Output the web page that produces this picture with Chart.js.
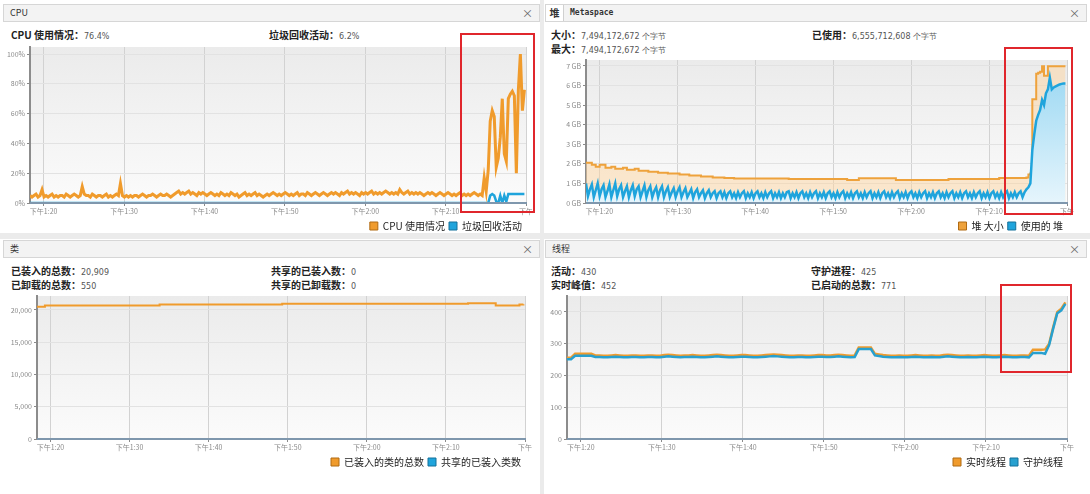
<!DOCTYPE html>
<html>
<head>
<meta charset="utf-8">
<script src="https://cdn.jsdelivr.net/npm/chart.js@4.4.0/dist/chart.umd.min.js"></script>
<style>
body { margin: 0; width: 1090px; height: 494px; background: #fff; position: relative; overflow: hidden; font-family: "Noto Sans CJK SC", sans-serif; }
.sep { position: absolute; background: #ebebeb; }
.hdr { position: absolute; height: 16px; background: #f3f3f3; border: 1px solid #d6d6d6; font-size: 9px; color: #333; line-height: 16px; }
.hdr .t { position: absolute; left: 6px; }
.hdr .x { position: absolute; right: 6px; color: #666; font-size: 11px; }
.st { position: absolute; font-size: 10px; font-weight: bold; color: #222; white-space: nowrap; line-height: 12px; }
.st i { font-style: normal; font-weight: normal; font-family: "DejaVu Sans", sans-serif; font-size: 8px; color: #555; }
.box { position: absolute; border: 2px solid #e0262c; box-sizing: border-box; pointer-events: none; }
canvas { position: absolute; }
</style>
</head>
<body>

<div class="sep" style="left:0;top:233px;width:1090px;height:6px"></div>
<div class="sep" style="left:540px;top:0;width:4px;height:494px"></div>

<div class="hdr" style="left:3px;top:4px;width:535px"><span class="t">CPU</span><span class="x">×</span></div>
<div class="hdr" style="left:545px;top:4px;width:540px">
  <span style="position:absolute;left:0;top:0;width:17px;height:16px;background:#fff;border-right:1px solid #d0d0d0;text-align:center;font-weight:bold;font-size:10px">堆</span>
  <span style="position:absolute;left:24px;font-family:'DejaVu Sans Mono',monospace;font-weight:bold;font-size:8px">Metaspace</span>
  <span class="x">×</span>
</div>
<div class="hdr" style="left:3px;top:240px;width:535px"><span class="t">类</span><span class="x">×</span></div>
<div class="hdr" style="left:545px;top:240px;width:540px"><span class="t">线程</span><span class="x">×</span></div>

<div class="st" style="left:11px;top:29px">CPU 使用情况：<i>76.4%</i></div>
<div class="st" style="left:269px;top:29px">垃圾回收活动：<i>6.2%</i></div>

<div class="st" style="left:551px;top:29px">大小：<i>7,494,172,672 个字节</i></div>
<div class="st" style="left:551px;top:43px">最大：<i>7,494,172,672 个字节</i></div>
<div class="st" style="left:812px;top:29px">已使用：<i>6,555,712,608 个字节</i></div>

<div class="st" style="left:11px;top:265px">已装入的总数：<i>20,909</i></div>
<div class="st" style="left:11px;top:279px">已卸载的总数：<i>550</i></div>
<div class="st" style="left:271px;top:265px">共享的已装入数：<i>0</i></div>
<div class="st" style="left:271px;top:279px">共享的已卸载数：<i>0</i></div>

<div class="st" style="left:551px;top:265px">活动：<i>430</i></div>
<div class="st" style="left:551px;top:279px">实时峰值：<i>452</i></div>
<div class="st" style="left:811px;top:265px">守护进程：<i>425</i></div>
<div class="st" style="left:811px;top:279px">已启动的总数：<i>771</i></div>

<canvas id="cpu" width="540" height="201" style="left:0;top:40px"></canvas>
<canvas id="heap" width="545" height="188" style="left:545px;top:53px"></canvas>
<canvas id="classes" width="540" height="188" style="left:0;top:289px"></canvas>
<canvas id="threads" width="545" height="188" style="left:545px;top:289px"></canvas>

<div class="box" style="left:460px;top:33px;width:75px;height:180px"></div>
<div class="box" style="left:1004px;top:47px;width:69px;height:168px"></div>
<div class="box" style="left:1000px;top:284px;width:72px;height:89px"></div>

<script>
// time is minutes after 13:00 (下午1:00)
var timeStart = 18.3;
var timeEnd = 80;
var fineStep = 0.25;
var coarseStep = 0.5;

var timeTicks = [20, 30, 40, 50, 60, 70, 80];
var timeTickLabels = ['下午1:20', '下午1:30', '下午1:40', '下午1:50', '下午2:00', '下午2:10', '下午'];

var cpuTicks = [0, 20, 40, 60, 80, 100];
var cpuTickLabels = ['0%', '20%', '40%', '60%', '80%', '100%'];
var heapTicks = [0, 1, 2, 3, 4, 5, 6, 7];
var heapTickLabels = ['0 GB', '1 GB', '2 GB', '3 GB', '4 GB', '5 GB', '6 GB', '7 GB'];
var classTicks = [0, 5000, 10000, 15000, 20000];
var classTickLabels = ['0', '5,000', '10,000', '15,000', '20,000'];
var threadTicks = [0, 100, 200, 300, 400];
var threadTickLabels = ['0', '100', '200', '300', '400'];

// CPU 使用情况 (%), one sample per fineStep
var cpuUsage = [
    5,4,5,6,4,5,9,4,5,4,5,6,4,5,4,5,5,4,6,5,
    4,5,6,5,4,5,11,6,5,5,4,6,5,4,5,5,4,5,6,4,
    5,4,5,6,5,13,5,4,5,4,5,4,5,5,4,5,6,5,4,5,
    5,6,5,4,5,6,5,5,6,5,4,5,6,7,8,6,7,6,7,8,
    6,7,6,5,7,6,7,6,5,6,7,6,5,6,5,7,6,5,6,5,
    7,6,5,6,4,5,6,7,5,6,5,6,7,5,6,5,4,5,6,5,
    6,7,6,5,6,5,6,7,6,5,6,5,6,7,5,6,6,5,7,6,
    5,6,7,6,5,6,7,6,5,6,7,6,7,6,5,7,6,7,8,6,
    7,6,7,6,5,7,6,7,6,7,8,6,7,6,7,6,7,8,7,6,
    7,6,7,6,9,7,6,7,8,6,7,6,7,6,7,6,5,6,7,6,
    7,6,5,6,7,6,5,6,7,6,5,6,5,6,7,5,6,5,6,5,
    6,7,6,5,6,5,17,8,22,55,62,58,24,30,44,70,33,28,70,73,
    75,72,20,76,100,62,76
];

// 垃圾回收活动 (%)
var gcActivity = [
    0,0,0,0,0,0,0,0,0,0,0,0,0,0,0,0,0,0,0,0,
    0,0,0,0,0,0,0,0,0,0,0,0,0,0,0,0,0,0,0,0,
    0,0,0,0,0,0,0,0,0,0,0,0,0,0,0,0,0,0,0,0,
    0,0,0,0,0,0,0,0,0,0,0,0,0,0,0,0,0,0,0,0,
    0,0,0,0,0,0,0,0,0,0,0,0,0,0,0,0,0,0,0,0,
    0,0,0,0,0,0,0,0,0,0,0,0,0,0,0,0,0,0,0,0,
    0,0,0,0,0,0,0,0,0,0,0,0,0,0,0,0,0,0,0,0,
    0,0,0,0,0,0,0,0,0,0,0,0,0,0,0,0,0,0,0,0,
    0,0,0,0,0,0,0,0,0,0,0,0,0,0,0,0,0,0,0,0,
    0,0,0,0,0,0,0,0,0,0,0,0,0,0,0,0,0,0,0,0,
    0,0,0,0,0,0,0,0,0,0,0,0,0,0,0,0,0,0,0,0,
    0,0,0,0,0,0,0,0,0,
    5,6,5,1,0,5,0,5,1,6,6,6,6,6,6,6,6,6
];

// 堆 大小 (GB)
var heapSize = [
    2.05,2.05,2.05,1.95,1.95,1.85,1.85,1.95,1.95,1.95, 1.8,1.8,1.8,1.85,1.85,1.75,1.75,1.75,1.75,1.8,
    1.8,1.7,1.7,1.7,1.7,1.75,1.75,1.65,1.65,1.65, 1.65,1.65,1.6,1.6,1.6,1.6,1.6,1.55,1.55,1.55,
    1.55,1.55,1.5,1.5,1.5,1.5,1.5,1.5,1.45,1.45, 1.45,1.45,1.45,1.4,1.4,1.4,1.4,1.4,1.4,1.35,
    1.35,1.35,1.35,1.35,1.35,1.3,1.3,1.3,1.3,1.3, 1.3,1.28,1.28,1.28,1.28,1.28,1.25,1.25,1.25,1.25,
    1.25,1.25,1.25,1.25,1.25,1.25,1.25,1.25,1.25,1.25, 1.25,1.25,1.25,1.25,1.25,1.25,1.25,1.25,1.25,1.25,
    1.25,1.25,1.25,1.25,1.22,1.22,1.22,1.22,1.22,1.22, 1.22,1.22,1.22,1.22,1.22,1.22,1.22,1.22,1.22,1.22,
    1.22,1.22,1.22,1.22,1.22,1.22,1.22,1.22,1.22,1.22, 1.22,1.22,1.22,1.22,1.18,1.18,1.18,1.18,1.18,1.18,
    1.26,1.26,1.26,1.26,1.26,1.26,1.26,1.26,1.26,1.26, 1.26,1.26,1.26,1.26,1.26,1.26,1.26,1.26,1.26,1.18,
    1.18,1.18,1.18,1.18,1.18,1.18,1.18,1.18,1.18,1.18, 1.18,1.18,1.18,1.18,1.18,1.18,1.18,1.18,1.18,1.18,
    1.18,1.18,1.18,1.18,1.18,1.18,1.22,1.22,1.22,1.22, 1.22,1.22,1.22,1.22,1.22,1.22,1.22,1.22,1.22,1.22,
    1.22,1.22,1.22,1.22,1.22,1.22,1.22,1.22,1.22,1.22, 1.22,1.22,1.28,1.28,1.28,1.28,1.28,1.28,1.28,1.28,
    1.28,1.28,1.28,1.28,1.28,1.28,1.3,1.45,1.5,5.3, 5.3,6.6,6.65,6.7,6.98,6.5,6.5,6.98,6.98,6.98,
    6.98,6.98,6.98,6.98,6.98,6.98,6.98
];

// 使用的 堆 (GB)
var heapUsed = [
    1.0,0.35,0.7,0.95,0.3,0.65,1.0,0.35,0.7,0.9, 0.3,0.6,0.95,0.3,0.65,1.0,0.35,0.7,0.9,0.3,
    0.6,0.85,0.3,0.65,0.9,0.35,0.7,0.85,0.3,0.6, 0.9,0.3,0.65,0.85,0.3,0.6,0.8,0.3,0.65,0.85,
    0.3,0.6,0.8,0.3,0.55,0.75,0.3,0.6,0.8,0.3, 0.55,0.75,0.3,0.5,0.7,0.25,0.55,0.7,0.3,0.5,
    0.65,0.25,0.5,0.65,0.3,0.5,0.6,0.25,0.5,0.6, 0.3,0.55,0.25,0.5,0.6,0.3,0.5,0.25,0.55,0.3,
    0.5,0.6,0.25,0.5,0.3,0.55,0.25,0.5,0.6,0.3, 0.5,0.25,0.55,0.3,0.5,0.6,0.25,0.5,0.3,0.55,
    0.25,0.5,0.3,0.55,0.6,0.25,0.5,0.3,0.55,0.25, 0.5,0.6,0.3,0.5,0.25,0.55,0.3,0.5,0.6,0.25,
    0.5,0.3,0.55,0.25,0.5,0.6,0.3,0.5,0.25,0.55, 0.3,0.5,0.6,0.25,0.5,0.3,0.55,0.25,0.5,0.6,
    0.3,0.5,0.25,0.55,0.3,0.5,0.6,0.25,0.5,0.3, 0.55,0.25,0.5,0.6,0.3,0.5,0.25,0.55,0.3,0.5,
    0.6,0.25,0.5,0.3,0.55,0.25,0.5,0.6,0.3,0.5, 0.25,0.55,0.3,0.5,0.6,0.25,0.5,0.3,0.55,0.25,
    0.5,0.6,0.3,0.5,0.25,0.55,0.3,0.5,0.6,0.25, 0.5,0.3,0.55,0.25,0.5,0.6,0.3,0.5,0.25,0.55,
    0.3,0.5,0.6,0.25,0.5,0.3,0.55,0.25,0.5,0.6, 0.3,0.5,0.25,0.55,0.3,0.5,0.6,0.25,0.5,0.3,
    0.55,0.3,0.5,0.6,0.3,0.55,0.7,0.8,1.0,2.7, 3.5,4.2,4.5,4.75,5.26,5.0,5.6,5.8,6.4,5.8,
    5.9,5.95,6.0,6.05,6.08,6.1,6.1
];

// 已装入的类的总数, one sample per coarseStep
var loadedClasses = [
    20500,20500,
    20700,20700,20700,20700,20700,20700,20700,20700,20700,20700,20700,20700,20700,20700,20700,
    20700,20700,20700,20700,20700,20700,20700,20700,20700,20700,20700,20700,20700,20700,
    20850,20850,20850,20850,20850,20850,20850,20850,20850,20850,20850,20850,20850,20850,20850,20850,
    20850,20850,20850,20850,20850,20850,20850,20850,20850,20850,20850,20850,20850,20850,20850,
    20950,20950,20950,20950,20950,20950,20950,20950,20950,20950,20950,20950,20950,20950,20950,20950,
    20950,20950,20950,20950,20950,20950,20950,20950,20950,20950,20950,20950,20950,20950,20950,20950,
    20950,20950,20950,20950,20950,20950,20950,20950,20950,20950,20950,20950,20950,20950,20950,
    21050,21050,21050,21050,21050,21050,21050,
    20700,20700,20700,20700,20700,20700,
    20850,20909
];

// 共享的已装入类数
var sharedClasses = [
    0,0,0,0,0,0,0,0,0,0,0,0,0,0,0,0,0,0,0,0,
    0,0,0,0,0,0,0,0,0,0,0,0,0,0,0,0,0,0,0,0,
    0,0,0,0,0,0,0,0,0,0,0,0,0,0,0,0,0,0,0,0,
    0,0,0,0,0,0,0,0,0,0,0,0,0,0,0,0,0,0,0,0,
    0,0,0,0,0,0,0,0,0,0,0,0,0,0,0,0,0,0,0,0,
    0,0,0,0,0,0,0,0,0,0,0,0,0,0,0,0,0,0,0,0,
    0,0,0,0
];

// 实时线程
var liveThreads = [
    256,256,268,268,268,268,268,263,263,262, 262,263,264,263,262,262,263,263,262,262,
    263,263,262,262,264,265,264,263,262,263, 263,264,263,262,262,263,264,265,264,263,
    262,262,263,264,264,263,262,262,263,264, 265,266,265,264,263,262,262,263,263,262,
    262,263,264,264,263,263,264,265,264,263, 262,263,288,288,288,288,268,266,264,263,
    262,262,263,262,262,263,264,263,262,262, 263,262,262,264,265,264,263,262,262,263,
    262,262,263,264,263,262,262,263,264,263, 262,262,263,263,262,281,281,281,282,300,
    352,400,410,430
];

// 守护线程
var daemonThreads = [
    251,251,262,262,262,262,262,258,258,257, 257,258,259,258,257,257,258,258,257,257,
    258,258,257,257,259,260,259,258,257,258, 258,259,258,257,257,258,259,260,259,258,
    257,257,258,259,259,258,257,257,258,259, 260,261,260,259,258,257,257,258,258,257,
    257,258,259,259,258,258,259,260,259,258, 257,258,283,283,283,283,263,261,259,258,
    257,257,258,257,257,258,259,258,257,257, 258,257,257,259,260,259,258,257,257,258,
    257,257,258,259,258,257,257,258,259,258, 257,257,258,258,257,271,271,271,268,296,
    348,396,405,425
];

var orange = '#f09b2c';
var blue = '#1fa4dc';
var axisColor = '#7f97ad';

Chart.defaults.animation = false;
Chart.defaults.responsive = false;
Chart.defaults.devicePixelRatio = 1;
Chart.defaults.font.family = 'Noto Sans CJK SC';
Chart.defaults.elements.point.radius = 0;
Chart.defaults.elements.line.tension = 0;
Chart.defaults.plugins.tooltip.enabled = false;

function toPoints(values, step) {
    return values.map(function (v, i) { return { x: timeStart + i * step, y: v }; });
}

// light gray gradient behind the plot, like VisualVM
var plotBackground = {
    id: 'plotBackground',
    beforeDraw: function (chart) {
        var a = chart.chartArea;
        var ctx = chart.ctx;
        var g = ctx.createLinearGradient(0, a.top, 0, a.bottom);
        g.addColorStop(0, '#ebebeb');
        g.addColorStop(1, '#fbfbfb');
        ctx.save();
        ctx.fillStyle = g;
        ctx.fillRect(a.left, a.top, a.right - a.left, a.bottom - a.top);
        ctx.restore();
    }
};

// the bottom axis line sits above zero-valued lines
var axisOnTop = {
    id: 'axisOnTop',
    afterDatasetsDraw: function (chart) {
        var a = chart.chartArea;
        var ctx = chart.ctx;
        ctx.save();
        ctx.strokeStyle = axisColor;
        ctx.lineWidth = 2;
        ctx.beginPath();
        ctx.moveTo(a.left, a.bottom);
        ctx.lineTo(a.right, a.bottom);
        ctx.stroke();
        ctx.restore();
    }
};

function timeAxis() {
    return {
        type: 'linear',
        min: timeStart,
        max: timeEnd,
        afterBuildTicks: function (s) { s.ticks = timeTicks.map(function (v) { return { value: v }; }); },
        afterFit: function (s) { s.height = 14; },
        ticks: {
            autoSkip: false, maxRotation: 0, padding: 1, color: '#8a8a8a',
            font: { size: 7 },
            callback: function (v, i) { return timeTickLabels[i]; }
        },
        grid: { color: '#d2d2d2', tickColor: '#8a8a8a', tickLength: 3 },
        border: { color: axisColor, width: 2 }
    };
}

function valueAxis(max, ticks, labels, width) {
    return {
        min: 0,
        max: max,
        afterBuildTicks: function (s) { s.ticks = ticks.map(function (v) { return { value: v }; }); },
        afterFit: function (s) { s.width = width; },
        ticks: {
            padding: 2, color: '#8a8a8a', font: { size: 7 },
            callback: function (v, i) { return labels[i]; }
        },
        grid: { color: '#e2e2e2', tickColor: '#8a8a8a', tickLength: 3 },
        border: { color: '#8c8c8c', width: 2 }
    };
}

function legendOptions() {
    return {
        position: 'bottom',
        align: 'end',
        labels: {
            boxWidth: 8, boxHeight: 8, padding: 4, color: '#222',
            font: { size: 10 },
            generateLabels: function (chart) {
                return chart.data.datasets.map(function (d, i) {
                    return { text: d.label, fillStyle: d.borderColor, strokeStyle: d.legendEdge, lineWidth: 1, datasetIndex: i, fontColor: '#222' };
                });
            }
        }
    };
}

function blueFill(context) {
    var a = context.chart.chartArea;
    if (!a) return 'rgba(150,215,240,0.6)';
    var g = context.chart.ctx.createLinearGradient(0, a.top, 0, a.bottom);
    g.addColorStop(0, '#96d6f2');
    g.addColorStop(1, '#e6f5fc');
    return g;
}

new Chart(document.getElementById('cpu').getContext('2d'), {
    type: 'line',
    data: {
        datasets: [
            { label: 'CPU 使用情况', data: toPoints(cpuUsage, fineStep), borderColor: orange, legendEdge: '#b06a12', borderWidth: 3, fill: false },
            { label: '垃圾回收活动', data: toPoints(gcActivity, fineStep), borderColor: blue, legendEdge: '#14709a', borderWidth: 2.5, fill: false }
        ]
    },
    options: {
        layout: { padding: { top: 7, right: 14, left: 0, bottom: 0 } },
        plugins: { legend: legendOptions() },
        scales: { x: timeAxis(), y: valueAxis(104.7, cpuTicks, cpuTickLabels, 30) }
    },
    plugins: [plotBackground, axisOnTop]
});

new Chart(document.getElementById('heap').getContext('2d'), {
    type: 'line',
    data: {
        datasets: [
            { label: '堆 大小', data: toPoints(heapSize, fineStep), borderColor: '#eea23c', legendEdge: '#b06a12', backgroundColor: 'rgba(252,212,160,0.5)', borderWidth: 2, stepped: true, fill: 'origin', order: 1 },
            { label: '使用的 堆', data: toPoints(heapUsed, fineStep), borderColor: blue, legendEdge: '#14709a', backgroundColor: blueFill, borderWidth: 2.5, fill: 'origin', order: 0 }
        ]
    },
    options: {
        layout: { padding: { top: 7, right: 23, left: 0, bottom: 0 } },
        plugins: { legend: legendOptions() },
        scales: { x: timeAxis(), y: valueAxis(7.3, heapTicks, heapTickLabels, 41) }
    },
    plugins: [plotBackground, axisOnTop]
});

new Chart(document.getElementById('classes').getContext('2d'), {
    type: 'line',
    data: {
        datasets: [
            { label: '已装入的类的总数', data: toPoints(loadedClasses, coarseStep), borderColor: orange, legendEdge: '#b06a12', borderWidth: 2, stepped: true, fill: false },
            { label: '共享的已装入类数', data: toPoints(sharedClasses, coarseStep), borderColor: blue, legendEdge: '#14709a', borderWidth: 2, fill: false }
        ]
    },
    options: {
        layout: { padding: { top: 7, right: 15, left: 0, bottom: 0 } },
        plugins: { legend: legendOptions() },
        scales: { x: timeAxis(), y: valueAxis(22170, classTicks, classTickLabels, 37) }
    },
    plugins: [plotBackground, axisOnTop]
});

new Chart(document.getElementById('threads').getContext('2d'), {
    type: 'line',
    data: {
        datasets: [
            { label: '实时线程', data: toPoints(liveThreads, coarseStep), borderColor: orange, legendEdge: '#b06a12', borderWidth: 2.5, fill: false, order: 1 },
            { label: '守护线程', data: toPoints(daemonThreads, coarseStep), borderColor: '#27a0cf', legendEdge: '#14709a', borderWidth: 2.5, fill: false, order: 0 }
        ]
    },
    options: {
        layout: { padding: { top: 7, right: 23, left: 0, bottom: 0 } },
        plugins: { legend: legendOptions() },
        scales: { x: timeAxis(), y: valueAxis(450, threadTicks, threadTickLabels, 22) }
    },
    plugins: [plotBackground, axisOnTop]
});
</script>
</body>
</html>
